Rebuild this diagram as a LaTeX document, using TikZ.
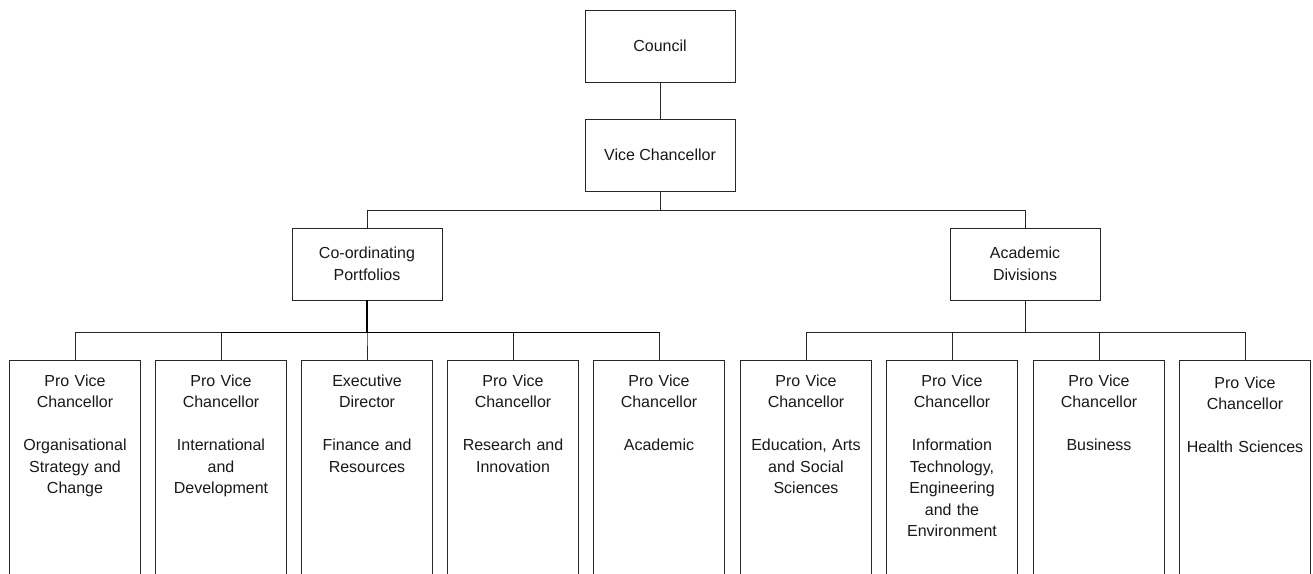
\documentclass[tikz,border=0pt]{standalone}
\usepackage{fontspec}
\setmainfont{Liberation Sans}
\usetikzlibrary{calc}
\begin{document}
\begin{tikzpicture}[x=1pt,y=-1pt,
  line width=0.9pt,
  headbox/.style={draw=black!85, line width=0.9pt, minimum width=150pt, minimum height=72pt,
    align=center, inner sep=2pt, font=\fontsize{16}{21.5}\selectfont, text=black!90},
  postbox/.style={draw=black!85, line width=0.9pt, anchor=north, text width=125pt, align=center,
    inner xsep=3pt, inner ysep=0pt, text height=26pt, text depth=240pt,
    font=\fontsize{16}{21.5}\selectfont, text=black!90},
  link/.style={draw=black!85, line width=0.9pt},
  trunk/.style={draw=black, line width=1.7pt}]
\clip (0,0) rectangle (1313,573);
\fill[white] (0,0) rectangle (1313,573);

% top of the hierarchy
\node[headbox] (council) at (660,46) {Council};
\node[headbox] (vc) at (660,155) {Vice Chancellor};
\node[headbox] (cp) at (367,264) {Co-ordinating\\Portfolios};
\node[headbox] (ad) at (1025,264) {Academic\\Divisions};

% portfolio heads
\node[postbox] (b1) at (75,360)  {Pro Vice\\Chancellor\\[21.5pt]Organisational\\Strategy and\\Change};
\node[postbox] (b2) at (221,360) {Pro Vice\\Chancellor\\[21.5pt]International\\and\\Development};
\node[postbox] (b3) at (367,360) {Executive\\Director\\[21.5pt]Finance and\\Resources};
\node[postbox] (b4) at (513,360) {Pro Vice\\Chancellor\\[21.5pt]Research and\\Innovation};
\node[postbox] (b5) at (659,360) {Pro Vice\\Chancellor\\[21.5pt]Academic};

% division heads
\node[postbox] (b6) at (806,360)  {Pro Vice\\Chancellor\\[21.5pt]Education, Arts\\and Social\\Sciences};
\node[postbox] (b7) at (952,360)  {Pro Vice\\Chancellor\\[21.5pt]Information\\Technology,\\Engineering\\and the\\Environment};
\node[postbox] (b8) at (1099,360) {Pro Vice\\Chancellor\\[21.5pt]Business};
\node[postbox, text height=28pt] (b9) at (1245,360) {Pro Vice\\Chancellor\\[21.5pt]Health Sciences};

% connectors
\draw[link] (council) -- (vc);
\draw[link] (vc.south) -- ++(0,19) -| (cp.north);
\draw[link] (vc.south) -- ++(0,19) -| (ad.north);

\coordinate (lbus) at ($(cp.south)+(0,32)$);
\foreach \b in {b1,b2,b3,b4,b5}
  \draw[link] (cp.south) -- ++(0,32) -| (\b.north);
\draw[trunk] (cp.south) -- ++(0,32);
\draw[trunk] (b2.north |- lbus) -- (b5.north |- lbus);

\foreach \b in {b6,b7,b8,b9}
  \draw[link] (ad.south) -- ++(0,32) -| (\b.north);
\end{tikzpicture}
\end{document}
